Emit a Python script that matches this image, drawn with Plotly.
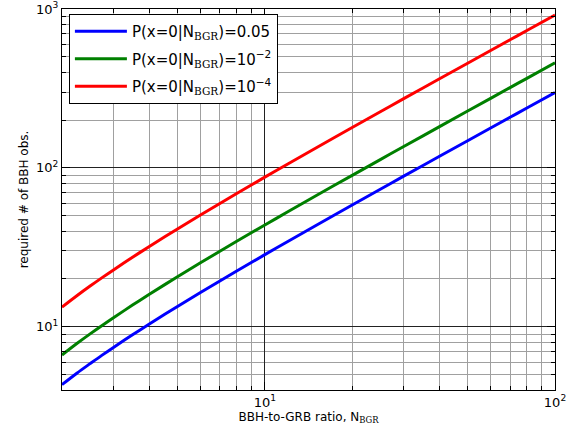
import plotly.graph_objects as go

# BBH-to-GRB ratio, N_BGR
n_bgr = [2, 2.25, 2.5, 2.75, 3, 3.5, 4, 5, 6, 7, 8, 10, 12, 15, 20, 25, 30, 40, 50, 60, 70, 80, 100]
# required number of BBH observations for each probability
obs_p005 = [4.32, 5.10, 5.86, 6.63, 7.39, 8.90, 10.41, 13.43, 16.43, 19.43, 22.43, 28.43, 34.43, 43.42,
            58.40, 73.39, 88.37, 118.3, 148.3, 178.2, 208.2, 238.2, 298.1]
obs_p1e2 = [6.64, 7.84, 9.02, 10.19, 11.36, 13.69, 16.01, 20.64, 25.26, 29.87, 34.49, 43.71, 52.93, 66.75,
            89.78, 112.8, 135.8, 181.9, 227.9, 274.0, 320.0, 366.1, 458.2]
obs_p1e4 = [13.29, 15.67, 18.03, 20.38, 22.71, 27.37, 32.02, 41.28, 50.52, 59.75, 68.97, 87.42, 105.9, 133.5,
            179.6, 225.6, 271.7, 363.8, 455.9, 547.9, 640.1, 732.2, 916.4]

sub = "<span style=\"font-family:'DejaVu Serif'\">BGR</span>"
series_names = [
    f"P(x=0|N<sub>{sub}</sub>)=0.05",
    f"P(x=0|N<sub>{sub}</sub>)=10<sup>−2</sup>",
    f"P(x=0|N<sub>{sub}</sub>)=10<sup>−4</sup>",
]
series_colors = ["#0000ff", "#008000", "#ff0000"]

x_tickvals = [10, 100]
x_ticktext = ["10<sup>1</sup>", "10<sup>2</sup>"]
y_tickvals = [10, 100, 1000]
y_ticktext = ["10<sup>1</sup>", "10<sup>2</sup>", "10<sup>3</sup>"]
x_minor = [2, 3, 4, 5, 6, 7, 8, 9, 20, 30, 40, 50, 60, 70, 80, 90]
y_minor = [4, 5, 6, 7, 8, 9, 20, 30, 40, 50, 60, 70, 80, 90, 200, 300, 400, 500, 600, 700, 800, 900]

fig = go.Figure()
for i, (ys, name, col) in enumerate(zip([obs_p005, obs_p1e2, obs_p1e4], series_names, series_colors)):
    fig.add_trace(go.Scatter(x=n_bgr, y=ys, mode="lines", name=name, legendgroup=f"g{i}",
                             line=dict(color=col, width=3, shape="spline", smoothing=1.0)))

axis_common = dict(
    type="log", showline=True, linecolor="black", linewidth=1, mirror="allticks",
    ticks="inside", ticklen=8, tickcolor="black", tickwidth=1, automargin=False,
    showgrid=True, gridcolor="#222222", gridwidth=1, zeroline=False,
    tickfont=dict(family="DejaVu Sans", size=13, color="black"),
)

fig.update_xaxes(**axis_common, range=[0.30103, 2], tickmode="array", tickvals=x_tickvals, ticktext=x_ticktext,
                 minor=dict(tickmode="array", tickvals=x_minor, ticks="inside", ticklen=4, tickcolor="black",
                            showgrid=True, gridcolor="#a0a0a0", gridwidth=1),
                 title=dict(text="BBH-to-GRB ratio, N<sub>" + sub + "</sub>",
                            font=dict(family="DejaVu Sans", size=12, color="black"), standoff=2))
fig.update_yaxes(**axis_common, range=[0.602, 3], tickmode="array", tickvals=y_tickvals, ticktext=y_ticktext,
                 minor=dict(tickmode="array", tickvals=y_minor, ticks="inside", ticklen=4, tickcolor="black",
                            showgrid=True, gridcolor="#a0a0a0", gridwidth=1),
                 title=dict(text="required # of BBH obs.",
                            font=dict(family="DejaVu Sans", size=12, color="black"), standoff=4))

fig.update_layout(
    width=580, height=434,
    margin=dict(l=62, r=25, t=9, b=44),
    paper_bgcolor="white", plot_bgcolor="white",
    font=dict(family="DejaVu Sans", color="black"),
    legend=dict(x=0.014, y=0.987, xanchor="left", yanchor="top",
                bgcolor="white", bordercolor="black", borderwidth=1,
                font=dict(family="DejaVu Sans", size=15, color="black"),
                tracegroupgap=5, itemwidth=52),
    showlegend=True,
)

fig.write_html("out.html", config={"displayModeBar": False},
               post_script="document.body.style.margin='0px';document.body.style.overflow='hidden';")
